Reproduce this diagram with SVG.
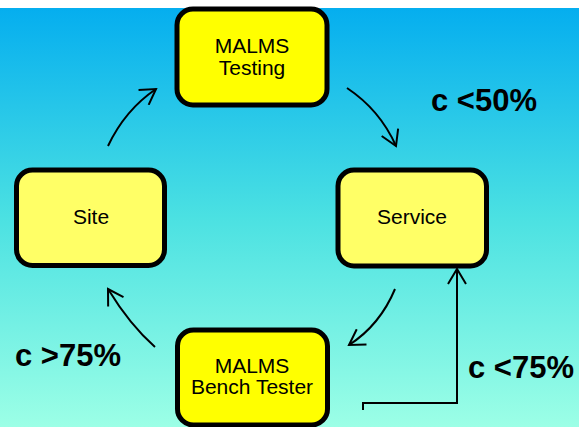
<svg xmlns="http://www.w3.org/2000/svg" width="579" height="427" viewBox="0 0 579 427">
<defs>
<linearGradient id="bg" x1="0" y1="0" x2="0" y2="1">
<stop offset="0" stop-color="#05AEEF"/>
<stop offset="0.5" stop-color="#4BE1E2"/>
<stop offset="1" stop-color="#9CFFE6"/>
</linearGradient>
<marker id="ah" viewBox="-16 -10 18 20" refX="0" refY="0" markerWidth="18" markerHeight="20" markerUnits="userSpaceOnUse" orient="auto">
<path d="M-15,-9 L0,0 L-15,9" fill="none" stroke="#000" stroke-width="2"/>
</marker>
</defs>
<style>
.node rect{stroke:#000;stroke-width:5}
.node text{font-family:"Liberation Sans",Arial,sans-serif;font-size:21px;text-anchor:middle;fill:#000}
.lbl{font-family:"Liberation Sans",Arial,sans-serif;font-size:31px;font-weight:bold;fill:#000}
.conn path{fill:none;stroke:#000;stroke-width:2}
</style>
<rect x="0" y="0" width="579" height="427" fill="#fff"/>
<rect x="0" y="8" width="579" height="419" fill="url(#bg)"/>
<g id="node-testing" class="node">
<rect x="177" y="9" width="150" height="96" rx="16" fill="#FFFF00"/>
<text x="252" y="53">MALMS</text>
<text x="252" y="75">Testing</text>
</g>
<g id="node-site" class="node">
<rect x="16.5" y="170" width="148" height="95.5" rx="16" fill="#FFFF66"/>
<text x="91" y="224">Site</text>
</g>
<g id="node-service" class="node">
<rect x="338" y="170" width="148.5" height="96" rx="16" fill="#FFFF66"/>
<text x="412" y="224">Service</text>
</g>
<g id="node-bench" class="node">
<rect x="177.5" y="330" width="150" height="95" rx="16" fill="#FFFF00"/>
<text x="252" y="373">MALMS</text>
<text x="252" y="394">Bench Tester</text>
</g>
<g id="connectors" class="conn">
<path d="M108,146 Q125,110 156,89" marker-end="url(#ah)"/>
<path d="M347,88 Q380,110 396,146" marker-end="url(#ah)"/>
<path d="M395,289 Q380,325 349,345" marker-end="url(#ah)"/>
<path d="M155,347 Q130,325 108,289" marker-end="url(#ah)"/>
<path d="M363,410 V403 H457 V269" marker-end="url(#ah)"/>
</g>
<g id="labels">
<text class="lbl" x="431" y="111">c &lt;50%</text>
<text class="lbl" x="15" y="366">c &gt;75%</text>
<text class="lbl" x="468" y="378">c &lt;75%</text>
</g>
</svg>
